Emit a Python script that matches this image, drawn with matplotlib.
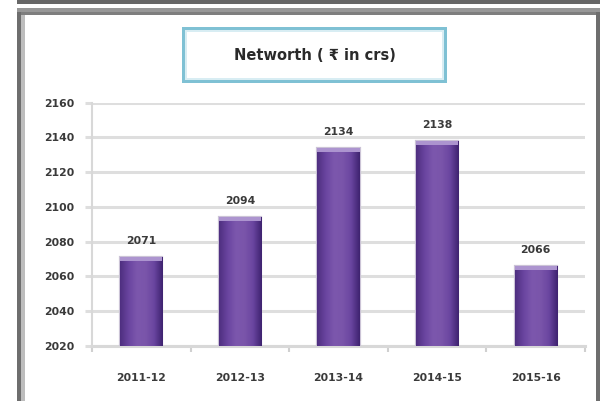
import numpy as np
import matplotlib
matplotlib.use("Agg")
import matplotlib.pyplot as plt
from matplotlib.patches import Rectangle
from matplotlib.colors import LinearSegmentedColormap

categories = ["2011-12", "2012-13", "2013-14", "2014-15", "2015-16"]
values = [2071, 2094, 2134, 2138, 2066]
value_labels = ["2071", "2094", "2134", "2138", "2066"]
yticks = [2020, 2040, 2060, 2080, 2100, 2120, 2140, 2160]
title = "Networth ( \u20b9 in crs)"

W, H = 600, 401
fig = plt.figure(figsize=(W / 100, H / 100), dpi=100)
fig.patch.set_facecolor("white")


def prect(x0, y0, x1, y1, color, z=0):
    r = Rectangle((x0 / W, 1 - y1 / H), (x1 - x0) / W, (y1 - y0) / H,
                  transform=fig.transFigure, facecolor=color,
                  edgecolor="none", linewidth=0, zorder=z)
    fig.add_artist(r)

# outer frame
prect(17, 0, 600, 4, "#676767")
prect(17, 8, 600, 12, "#979797")
prect(17, 12, 600, 15, "#7e7e7e")
prect(17, 12, 21, 401, "#6e6e6e")
prect(21, 15, 25, 401, "#bdbdbd")
prect(596, 12, 600, 401, "#6e6e6e")

# title box
prect(182, 27, 447, 83, "#7fc1d4")
prect(185, 30, 444, 80, "#d8edf3")
prect(187, 32, 442, 78, "white")
fig.text(314.5 / W, 1 - 55 / H, title, ha="center", va="center",
         fontsize=10.5, fontweight="bold", color="#2a2a2a")

# axes
ax_left, ax_right = 92, 585
ax_top, ax_bot = 102.7, 345.7
ax = fig.add_axes([ax_left / W, 1 - ax_bot / H, (ax_right - ax_left) / W, (ax_bot - ax_top) / H])
ax.set_facecolor("none")
ax.set_xlim(-0.5, len(categories) - 0.5)
ax.set_ylim(yticks[0], yticks[-1])
ax.set_yticks(yticks)
ax.set_yticklabels([str(t) for t in yticks], fontsize=7.8, fontweight="bold", color="#3a3a3a")
ax.yaxis.grid(True, color="#dedede", linewidth=2.2)
ax.set_axisbelow(True)
for s in ["top", "right"]:
    ax.spines[s].set_visible(False)
ax.spines["left"].set_color("#d8d8d8")
ax.spines["left"].set_linewidth(1.5)
ax.spines["bottom"].set_color("#d8d8d8")
ax.spines["bottom"].set_linewidth(2.2)
ax.tick_params(axis="y", length=5, width=2.2, color="#dedede", pad=8)
ax.set_xticks(range(len(categories)))
ax.set_xticklabels(categories, fontsize=7.8, fontweight="bold", color="#3a3a3a")
ax.tick_params(axis="x", length=0, pad=20)
ax.set_xticks(np.arange(-0.5, len(categories), 1.0), minor=True)
ax.tick_params(axis="x", which="minor", length=4, width=1.5, color="#d0d0d0")

bw = 0.43
bars = ax.bar(range(len(categories)), [v - yticks[0] for v in values], bottom=yticks[0],
              width=bw, color="#7b55a8", edgecolor="#cbc3d6", linewidth=1.6, zorder=3)

grad = LinearSegmentedColormap.from_list(
    "g", ["#4f2f80", "#6a45a0", "#7c57ad", "#7a55aa", "#6a45a0", "#3f2370"])
gimg = np.linspace(0, 1, 64).reshape(1, -1)
px_per_unit = (ax_bot - ax_top) / (yticks[-1] - yticks[0])
for b, lab in zip(bars, value_labels):
    x0 = b.get_x()
    x1 = x0 + b.get_width()
    y0 = b.get_y()
    y1 = y0 + b.get_height()
    im = ax.imshow(gimg, extent=[x0, x1, y0, y1], aspect="auto", cmap=grad, zorder=3.5,
                   interpolation="bicubic")
    im.set_clip_path(b)
    cap = 4 / px_per_unit
    ax.add_patch(Rectangle((x0, y1 - cap), x1 - x0, cap, facecolor="#ac94cf",
                           edgecolor="none", zorder=3.6))
    ax.text(b.get_x() + b.get_width() / 2, y1 + 11 / px_per_unit, lab, ha="center", va="bottom",
            fontsize=7.8, fontweight="bold", color="#3a3a3a", zorder=5)

fig.savefig("out.png", dpi=100)
